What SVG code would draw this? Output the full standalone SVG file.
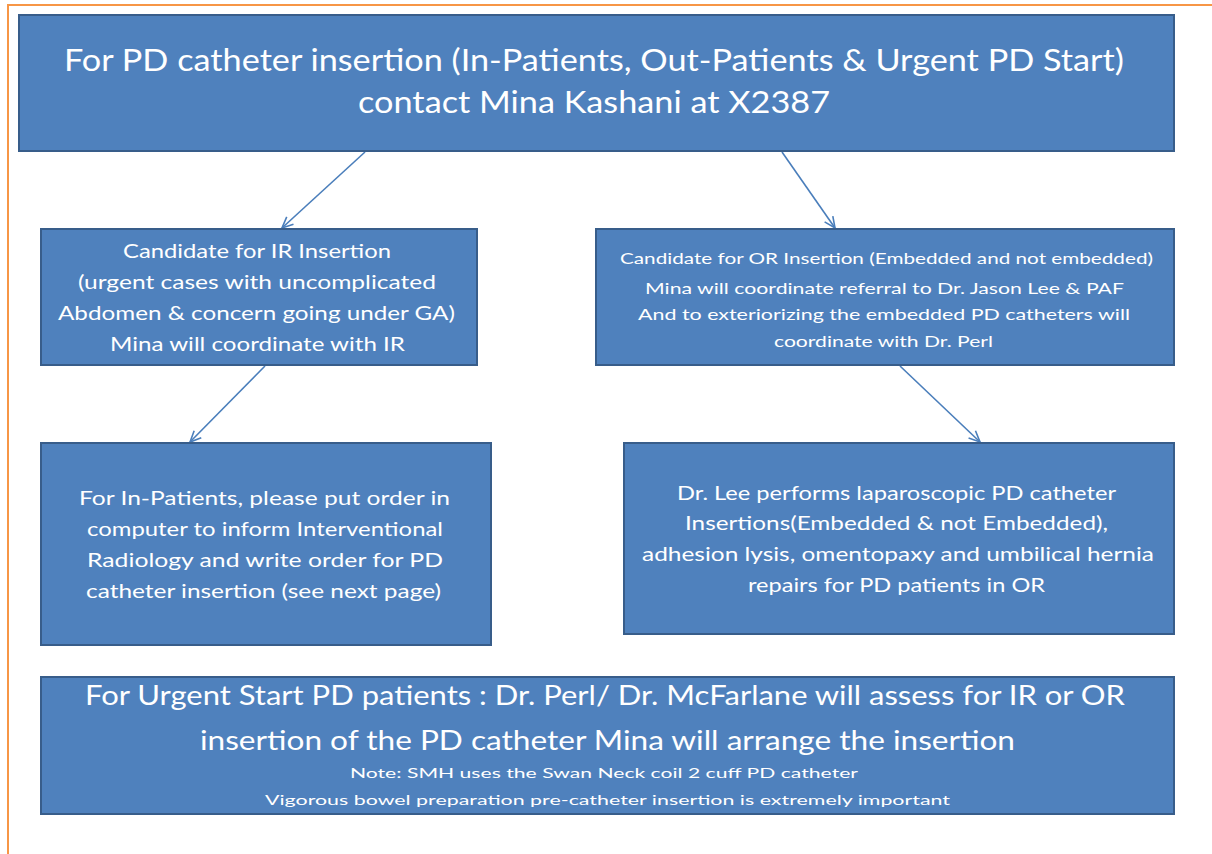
<svg xmlns="http://www.w3.org/2000/svg" width="1212" height="854" viewBox="0 0 1212 854">
<style>
.box{fill:#4f81bd;stroke:#385d8a;stroke-width:2}
.t{fill:#ffffff;font-family:Lato,"Open Sans","Liberation Sans",sans-serif}
.conn{stroke:#4a7ebb;stroke-width:1.6;fill:none}
</style>
<defs>
<marker id="arr" markerUnits="userSpaceOnUse" markerWidth="16" markerHeight="16" refX="12" refY="6" orient="auto">
<path d="M1,1 L12,6 L1,11" fill="none" stroke="#4a7ebb" stroke-width="1.6"/>
</marker>
</defs>
<rect width="1212" height="854" fill="#ffffff"/>
<rect x="8" y="5" width="1400" height="1000" fill="none" stroke="#f79646" stroke-width="2"/>
<g id="connectors">
<line class="conn" x1="365" y1="152" x2="282" y2="228" marker-end="url(#arr)"/>
<line class="conn" x1="782" y1="152" x2="835" y2="228" marker-end="url(#arr)"/>
<line class="conn" x1="265" y1="366" x2="190" y2="442" marker-end="url(#arr)"/>
<line class="conn" x1="900" y1="366" x2="980" y2="442" marker-end="url(#arr)"/>
</g>
<g id="top">
<rect class="box" x="19" y="15" width="1155" height="136"/>
<text class="t" font-size="30" x="64" y="71" textLength="1060" lengthAdjust="spacingAndGlyphs">For PD catheter insertion (In-Patients, Out-Patients &amp; Urgent PD Start)</text>
<text class="t" font-size="30" x="358" y="113" textLength="472" lengthAdjust="spacingAndGlyphs">contact Mina Kashani at X2387</text>
</g>
<g id="ir">
<rect class="box" x="41" y="229" width="436" height="136"/>
<text class="t" font-size="20" x="123" y="258" textLength="268" lengthAdjust="spacingAndGlyphs">Candidate  for IR Insertion</text>
<text class="t" font-size="20" x="78" y="289" textLength="358" lengthAdjust="spacingAndGlyphs">(urgent cases with  uncomplicated</text>
<text class="t" font-size="20" x="58" y="320" textLength="397" lengthAdjust="spacingAndGlyphs">Abdomen &amp; concern going under GA)</text>
<text class="t" font-size="20" x="110" y="351" textLength="295" lengthAdjust="spacingAndGlyphs">Mina will coordinate with IR</text>
</g>
<g id="or">
<rect class="box" x="596" y="229" width="578" height="136"/>
<text class="t" font-size="16" x="620" y="264" textLength="533" lengthAdjust="spacingAndGlyphs">Candidate for OR Insertion (Embedded  and not embedded)</text>
<text class="t" font-size="16" x="645" y="294" textLength="479" lengthAdjust="spacingAndGlyphs">Mina will coordinate referral  to  Dr. Jason Lee &amp; PAF</text>
<text class="t" font-size="16" x="638" y="320" textLength="492" lengthAdjust="spacingAndGlyphs">And  to exteriorizing  the embedded PD catheters will</text>
<text class="t" font-size="16" x="774" y="347" textLength="219" lengthAdjust="spacingAndGlyphs">coordinate with Dr. Perl</text>
</g>
<g id="inpatients">
<rect class="box" x="41" y="443" width="450" height="202"/>
<text class="t" font-size="19" x="79" y="505" textLength="371" lengthAdjust="spacingAndGlyphs">For In-Patients,  please  put order  in</text>
<text class="t" font-size="19" x="87" y="536" textLength="356" lengthAdjust="spacingAndGlyphs">computer  to inform Interventional</text>
<text class="t" font-size="19" x="87" y="567" textLength="356" lengthAdjust="spacingAndGlyphs">Radiology   and write  order  for PD</text>
<text class="t" font-size="19" x="86" y="598" textLength="355" lengthAdjust="spacingAndGlyphs">catheter  insertion  (see  next  page)</text>
</g>
<g id="drlee">
<rect class="box" x="624" y="443" width="550" height="191"/>
<text class="t" font-size="19" x="677" y="500" textLength="439" lengthAdjust="spacingAndGlyphs">Dr. Lee  performs  laparoscopic PD catheter</text>
<text class="t" font-size="19" x="685" y="530" textLength="423" lengthAdjust="spacingAndGlyphs">Insertions(Embedded  &amp; not Embedded),</text>
<text class="t" font-size="19" x="642" y="561" textLength="512" lengthAdjust="spacingAndGlyphs">adhesion  lysis, omentopaxy  and umbilical  hernia</text>
<text class="t" font-size="19" x="748" y="592" textLength="297" lengthAdjust="spacingAndGlyphs">repairs  for PD patients  in OR</text>
</g>
<g id="urgent">
<rect class="box" x="41" y="677" width="1133" height="137"/>
<text class="t" font-size="26" x="85" y="705" textLength="1040" lengthAdjust="spacingAndGlyphs">For Urgent Start PD patients :  Dr. Perl/ Dr. McFarlane will assess for IR or OR</text>
<text class="t" font-size="26" x="200" y="750" textLength="815" lengthAdjust="spacingAndGlyphs">insertion of the PD catheter Mina will arrange the insertion</text>
<text class="t" font-size="14" x="350" y="778" textLength="508" lengthAdjust="spacingAndGlyphs">Note: SMH  uses the Swan Neck coil 2 cuff PD catheter</text>
<text class="t" font-size="14" x="265" y="805" textLength="685" lengthAdjust="spacingAndGlyphs">Vigorous bowel preparation pre-catheter insertion is extremely important</text>
</g>
</svg>
